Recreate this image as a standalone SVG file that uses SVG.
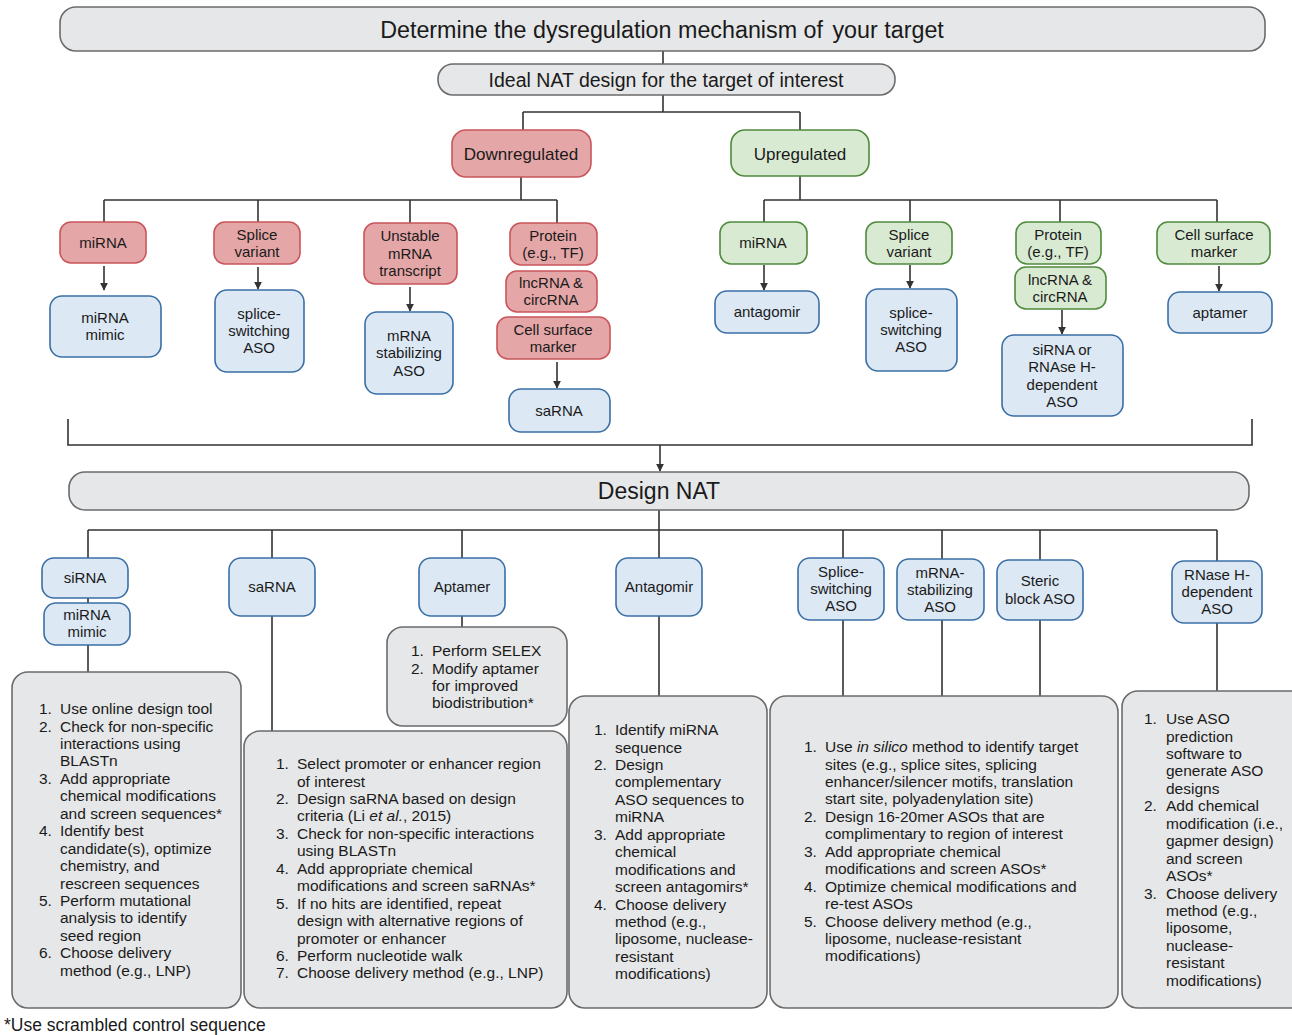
<svg xmlns="http://www.w3.org/2000/svg" width="1292" height="1035" viewBox="0 0 1292 1035">
<defs>
<marker id="ah" viewBox="0 0 10 10" refX="9" refY="5" markerWidth="8" markerHeight="8" markerUnits="userSpaceOnUse" orient="auto"><path d="M0,0 L10,5 L0,10 z" fill="#333"/></marker>
<style>
text{font-family:"Liberation Sans",Arial,sans-serif;fill:#1a1a1a}
.hdr{fill:#e6e7e8;stroke:#6b6b6b;stroke-width:1.6}
.red{fill:#e4a6a7;stroke:#c9565b;stroke-width:1.6}
.grn{fill:#d9ead3;stroke:#4f8a3d;stroke-width:1.6}
.blu{fill:#dce8f4;stroke:#3a6fa6;stroke-width:1.6}
.gry{fill:#e6e7e8;stroke:#6b6b6b;stroke-width:1.6}
.lbl{font-size:15px;text-anchor:middle}
.big{font-size:23px;text-anchor:middle}
.lst{font-size:15.5px}
.con{fill:none;stroke:#333;stroke-width:1.6}
</style>
</defs>

<g id="connectors">
<path class="con" d="M663,51V64M663,95V112M523,112H800M523,112V130M800,112V130"/>
<path class="con" d="M521,177V200M104,200H557M104,200V222M258,200V222M410,200V223M557,200V223"/>
<path class="con" d="M800,176V200M764,200H1217M764,200V222M910,200V222M1060,200V222M1217,200V222"/>
<path class="con" d="M104,266V290" marker-end="url(#ah)"/>
<path class="con" d="M258,267V289" marker-end="url(#ah)"/>
<path class="con" d="M410,287V311" marker-end="url(#ah)"/>
<path class="con" d="M557,362V388" marker-end="url(#ah)"/>
<path class="con" d="M764,265V290" marker-end="url(#ah)"/>
<path class="con" d="M910,265V288" marker-end="url(#ah)"/>
<path class="con" d="M1062,310V334" marker-end="url(#ah)"/>
<path class="con" d="M1219,266V291" marker-end="url(#ah)"/>
<path class="con" d="M68,419V445H1252V419"/>
<path class="con" d="M660,445V471" marker-end="url(#ah)"/>
<path class="con" d="M659,510V558M88,530H1217M88,530V558M272,530V558M462,530V558M843,530V558M942,530V559M1040,530V560M1217,530V561"/>
<path class="con" d="M88,598V603M88,645V672M272,616V731M462,616V627M659,616V696M843,620V696M942,620V696M1040,620V696M1217,623V691"/>
</g>

<g id="n-top"><rect class="hdr" x="60" y="7" width="1205" height="44" rx="16"/><text x="662" y="38" style="font-size:23.3px;text-anchor:middle">Determine the dysregulation mechanism of<tspan dx="3"> your target</tspan></text></g>
<g id="n-ideal"><rect class="hdr" x="438" y="64" width="457" height="31" rx="15"/><text x="666" y="87" style="font-size:19.5px;text-anchor:middle">Ideal NAT design for the target of interest</text></g>

<g id="n-down"><rect class="red" x="452" y="130" width="139" height="47" rx="14"/><text x="521" y="160" style="font-size:17px;text-anchor:middle">Downregulated</text></g>
<g id="n-up"><rect class="grn" x="731" y="130" width="138" height="46" rx="14"/><text x="800" y="160" style="font-size:17px;text-anchor:middle">Upregulated</text></g>

<g id="d-mirna"><rect class="red" x="60" y="222" width="86" height="41" rx="11"/><text class="lbl" x="103" y="248">miRNA</text></g>
<g id="d-splice"><rect class="red" x="214" y="222" width="86" height="42" rx="11"/><text class="lbl" x="257" y="240">Splice</text><text class="lbl" x="257" y="257">variant</text></g>
<g id="d-unstable"><rect class="red" x="364" y="223" width="93" height="61" rx="11"/><text class="lbl" x="410" y="241">Unstable</text><text class="lbl" x="410" y="259">mRNA</text><text class="lbl" x="410" y="276">transcript</text></g>
<g id="d-protein"><rect class="red" x="510" y="223" width="87" height="42" rx="11"/><text class="lbl" x="553" y="241">Protein</text><text class="lbl" x="553" y="258">(e.g., TF)</text></g>
<g id="d-lnc"><rect class="red" x="506" y="271" width="91" height="41" rx="11"/><text class="lbl" x="551" y="288">lncRNA &amp;</text><text class="lbl" x="551" y="305">circRNA</text></g>
<g id="d-cell"><rect class="red" x="497" y="317" width="113" height="42" rx="11"/><text class="lbl" x="553" y="335">Cell surface</text><text class="lbl" x="553" y="352">marker</text></g>

<g id="d-mimic"><rect class="blu" x="50" y="296" width="111" height="61" rx="12"/><text class="lbl" x="105" y="323">miRNA</text><text class="lbl" x="105" y="340">mimic</text></g>
<g id="d-ssaso"><rect class="blu" x="215" y="290" width="89" height="82" rx="12"/><text class="lbl" x="259" y="319">splice-</text><text class="lbl" x="259" y="336">switching</text><text class="lbl" x="259" y="353">ASO</text></g>
<g id="d-mstab"><rect class="blu" x="365" y="312" width="88" height="82" rx="12"/><text class="lbl" x="409" y="341">mRNA</text><text class="lbl" x="409" y="358">stabilizing</text><text class="lbl" x="409" y="376">ASO</text></g>
<g id="d-sarna"><rect class="blu" x="509" y="389" width="101" height="43" rx="12"/><text class="lbl" x="559" y="416">saRNA</text></g>

<g id="u-mirna"><rect class="grn" x="720" y="222" width="87" height="42" rx="11"/><text class="lbl" x="763" y="248">miRNA</text></g>
<g id="u-splice"><rect class="grn" x="866" y="222" width="86" height="42" rx="11"/><text class="lbl" x="909" y="240">Splice</text><text class="lbl" x="909" y="257">variant</text></g>
<g id="u-protein"><rect class="grn" x="1016" y="222" width="85" height="42" rx="11"/><text class="lbl" x="1058" y="240">Protein</text><text class="lbl" x="1058" y="257">(e.g., TF)</text></g>
<g id="u-lnc"><rect class="grn" x="1015" y="267" width="91" height="42" rx="11"/><text class="lbl" x="1060" y="285">lncRNA &amp;</text><text class="lbl" x="1060" y="302">circRNA</text></g>
<g id="u-cell"><rect class="grn" x="1157" y="222" width="113" height="42" rx="11"/><text class="lbl" x="1214" y="240">Cell surface</text><text class="lbl" x="1214" y="257">marker</text></g>

<g id="u-antagomir"><rect class="blu" x="715" y="291" width="104" height="42" rx="12"/><text class="lbl" x="767" y="317">antagomir</text></g>
<g id="u-ssaso"><rect class="blu" x="866" y="289" width="91" height="82" rx="12"/><text class="lbl" x="911" y="318">splice-</text><text class="lbl" x="911" y="335">switching</text><text class="lbl" x="911" y="352">ASO</text></g>
<g id="u-sirna"><rect class="blu" x="1002" y="335" width="121" height="81" rx="12"/><text class="lbl" x="1062" y="355">siRNA or</text><text class="lbl" x="1062" y="372">RNAse H-</text><text class="lbl" x="1062" y="390">dependent</text><text class="lbl" x="1062" y="407">ASO</text></g>
<g id="u-aptamer"><rect class="blu" x="1168" y="292" width="104" height="41" rx="12"/><text class="lbl" x="1220" y="318">aptamer</text></g>

<g id="n-design"><rect class="hdr" x="69" y="472" width="1180" height="38" rx="16"/><text class="big" x="659" y="499">Design NAT</text></g>

<g id="t-sirna"><rect class="blu" x="42" y="558" width="86" height="40" rx="12"/><text class="lbl" x="85" y="583">siRNA</text></g>
<g id="t-mimic"><rect class="blu" x="44" y="603" width="86" height="42" rx="12"/><text class="lbl" x="87" y="620">miRNA</text><text class="lbl" x="87" y="637">mimic</text></g>
<g id="t-sarna"><rect class="blu" x="229" y="558" width="86" height="58" rx="12"/><text class="lbl" x="272" y="592">saRNA</text></g>
<g id="t-aptamer"><rect class="blu" x="419" y="558" width="86" height="58" rx="12"/><text class="lbl" x="462" y="592">Aptamer</text></g>
<g id="t-antagomir"><rect class="blu" x="616" y="558" width="86" height="58" rx="12"/><text class="lbl" x="659" y="592">Antagomir</text></g>
<g id="t-ssaso"><rect class="blu" x="798" y="558" width="86" height="62" rx="12"/><text class="lbl" x="841" y="577">Splice-</text><text class="lbl" x="841" y="594">switching</text><text class="lbl" x="841" y="611">ASO</text></g>
<g id="t-mstab"><rect class="blu" x="897" y="559" width="87" height="61" rx="12"/><text class="lbl" x="940" y="578">mRNA-</text><text class="lbl" x="940" y="595">stabilizing</text><text class="lbl" x="940" y="612">ASO</text></g>
<g id="t-steric"><rect class="blu" x="997" y="560" width="86" height="60" rx="12"/><text class="lbl" x="1040" y="586">Steric</text><text class="lbl" x="1040" y="604">block ASO</text></g>
<g id="t-rnase"><rect class="blu" x="1172" y="561" width="90" height="62" rx="12"/><text class="lbl" x="1217" y="580">RNase H-</text><text class="lbl" x="1217" y="597">dependent</text><text class="lbl" x="1217" y="614">ASO</text></g>

<g id="l-sirna" class="lst">
<rect class="gry" x="12" y="672" width="229" height="336" rx="16"/>
<text x="39" y="714">1.</text><text x="60" y="714">Use online design tool</text>
<text x="39" y="731.5">2.</text><text x="60" y="731.5">Check for non-specific</text>
<text x="60" y="749">interactions using</text>
<text x="60" y="766.4">BLASTn</text>
<text x="39" y="783.8">3.</text><text x="60" y="783.8">Add appropriate</text>
<text x="60" y="801.3">chemical modifications</text>
<text x="60" y="818.7">and screen sequences*</text>
<text x="39" y="836.2">4.</text><text x="60" y="836.2">Identify best</text>
<text x="60" y="853.6">candidate(s), optimize</text>
<text x="60" y="871">chemistry, and</text>
<text x="60" y="888.5">rescreen sequences</text>
<text x="39" y="906">5.</text><text x="60" y="906">Perform mutational</text>
<text x="60" y="923.4">analysis to identify</text>
<text x="60" y="940.8">seed region</text>
<text x="39" y="958.3">6.</text><text x="60" y="958.3">Choose delivery</text>
<text x="60" y="975.7">method (e.g., LNP)</text>
</g>

<g id="l-aptamer" class="lst">
<rect class="gry" x="387" y="627" width="180" height="99" rx="16"/>
<text x="411" y="656">1.</text><text x="432" y="656">Perform SELEX</text>
<text x="411" y="673.5">2.</text><text x="432" y="673.5">Modify aptamer</text>
<text x="432" y="691">for improved</text>
<text x="432" y="708.4">biodistribution*</text>
</g>

<g id="l-sarna" class="lst">
<rect class="gry" x="244" y="731" width="323" height="277" rx="16"/>
<text x="276" y="769">1.</text><text x="297" y="769">Select promoter or enhancer region</text>
<text x="297" y="786.5">of interest</text>
<text x="276" y="804">2.</text><text x="297" y="804">Design saRNA based on design</text>
<text x="297" y="821.4">criteria (Li <tspan font-style="italic">et al.</tspan>, 2015)</text>
<text x="276" y="838.8">3.</text><text x="297" y="838.8">Check for non-specific interactions</text>
<text x="297" y="856.3">using BLASTn</text>
<text x="276" y="873.7">4.</text><text x="297" y="873.7">Add appropriate chemical</text>
<text x="297" y="891.2">modifications and screen saRNAs*</text>
<text x="276" y="908.6">5.</text><text x="297" y="908.6">If no hits are identified, repeat</text>
<text x="297" y="926">design with alternative regions of</text>
<text x="297" y="943.5">promoter or enhancer</text>
<text x="276" y="961">6.</text><text x="297" y="961">Perform nucleotide walk</text>
<text x="276" y="978.4">7.</text><text x="297" y="978.4">Choose delivery method (e.g., LNP)</text>
</g>

<g id="l-antagomir" class="lst">
<rect class="gry" x="569" y="696" width="198" height="312" rx="16"/>
<text x="594" y="735">1.</text><text x="615" y="735">Identify miRNA</text>
<text x="615" y="752.5">sequence</text>
<text x="594" y="770">2.</text><text x="615" y="770">Design</text>
<text x="615" y="787.4">complementary</text>
<text x="615" y="804.8">ASO sequences to</text>
<text x="615" y="822.3">miRNA</text>
<text x="594" y="839.7">3.</text><text x="615" y="839.7">Add appropriate</text>
<text x="615" y="857.2">chemical</text>
<text x="615" y="874.6">modifications and</text>
<text x="615" y="892">screen antagomirs*</text>
<text x="594" y="909.5">4.</text><text x="615" y="909.5">Choose delivery</text>
<text x="615" y="927">method (e.g.,</text>
<text x="615" y="944.4">liposome, nuclease-</text>
<text x="615" y="961.8">resistant</text>
<text x="615" y="979.3">modifications)</text>
</g>

<g id="l-aso" class="lst">
<rect class="gry" x="770" y="696" width="348" height="312" rx="16"/>
<text x="804" y="752">1.</text><text x="825" y="752">Use <tspan font-style="italic">in silico</tspan> method to identify target</text>
<text x="825" y="769.5">sites (e.g., splice sites, splicing</text>
<text x="825" y="787">enhancer/silencer motifs, translation</text>
<text x="825" y="804.4">start site, polyadenylation site)</text>
<text x="804" y="821.8">2.</text><text x="825" y="821.8">Design 16-20mer ASOs that are</text>
<text x="825" y="839.3">complimentary to region of interest</text>
<text x="804" y="856.7">3.</text><text x="825" y="856.7">Add appropriate chemical</text>
<text x="825" y="874.2">modifications and screen ASOs*</text>
<text x="804" y="891.6">4.</text><text x="825" y="891.6">Optimize chemical modifications and</text>
<text x="825" y="909">re-test ASOs</text>
<text x="804" y="926.5">5.</text><text x="825" y="926.5">Choose delivery method (e.g.,</text>
<text x="825" y="944">liposome, nuclease-resistant</text>
<text x="825" y="961.4">modifications)</text>
</g>

<g id="l-rnase" class="lst">
<rect class="gry" x="1122" y="691" width="200" height="317" rx="16"/>
<text x="1144" y="724">1.</text><text x="1166" y="724">Use ASO</text>
<text x="1166" y="741.5">prediction</text>
<text x="1166" y="759">software to</text>
<text x="1166" y="776.4">generate ASO</text>
<text x="1166" y="793.8">designs</text>
<text x="1144" y="811.3">2.</text><text x="1166" y="811.3">Add chemical</text>
<text x="1166" y="828.7">modification (i.e.,</text>
<text x="1166" y="846.2">gapmer design)</text>
<text x="1166" y="863.6">and screen</text>
<text x="1166" y="881">ASOs*</text>
<text x="1144" y="898.5">3.</text><text x="1166" y="898.5">Choose delivery</text>
<text x="1166" y="916">method (e.g.,</text>
<text x="1166" y="933.4">liposome,</text>
<text x="1166" y="950.8">nuclease-</text>
<text x="1166" y="968.3">resistant</text>
<text x="1166" y="985.7">modifications)</text>
</g>

<text x="4" y="1031" style="font-size:17.5px">*Use scrambled control sequence</text>
</svg>
